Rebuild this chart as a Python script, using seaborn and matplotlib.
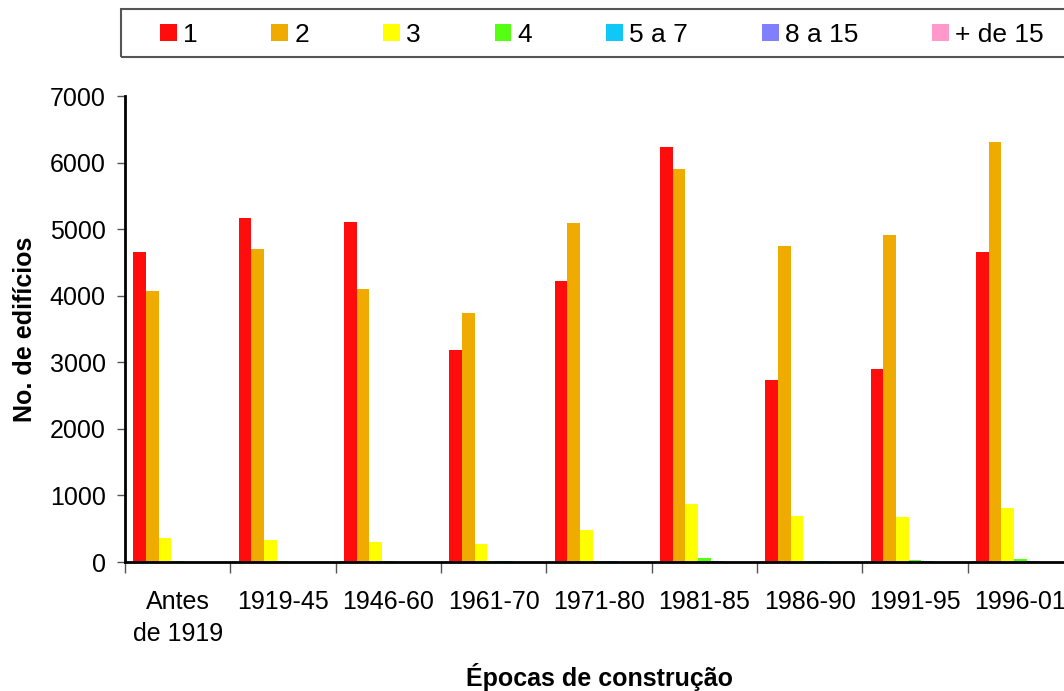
import numpy as np
import pandas as pd
import seaborn as sns
import matplotlib as mpl
from matplotlib import pyplot as plt

# data
epocas = ['Antes\nde 1919', '1919-45', '1946-60', '1961-70', '1971-80',
          '1981-85', '1986-90', '1991-95', '1996-01']
pisos = ['1', '2', '3', '4', '5 a 7', '8 a 15', '+ de 15']

p1 = [4655, 5165, 5105, 3180, 4215, 6240, 2730, 2895, 4650]
p2 = [4075, 4700, 4095, 3735, 5085, 5910, 4740, 4905, 6315]
p3 = [365, 335, 305, 265, 485, 875, 695, 680, 815]
p4 = [10, 10, 10, 22, 22, 65, 22, 35, 50]
p5_7 = [2, 2, 3, 8, 8, 8, 8, 8, 8]
p8_15 = [1, 1, 1, 2, 4, 2, 2, 4, 4]
p15 = [0, 0, 0, 1, 1, 1, 1, 1, 1]

cores = ['#ff0d0d', '#efab00', '#ffff00', '#55ff11', '#10c8f8', '#8080ff', '#ff99cc']

series = [p1, p2, p3, p4, p5_7, p8_15, p15]
rows = []
for nome, vals in zip(pisos, series):
    for ep, v in zip(epocas, vals):
        rows.append({'Época': ep, 'Pisos': nome, 'Edifícios': v})
df = pd.DataFrame(rows)

sns.set_style('white')
plt.rcParams['font.family'] = ['Liberation Sans', 'DejaVu Sans']
plt.rcParams['text.color'] = 'black'
plt.rcParams['axes.labelcolor'] = 'black'

W, H = 1064, 691
fig = plt.figure(figsize=(W / 100, H / 100), dpi=100)
ax = fig.add_axes([125 / W, 1 - 562 / H, (1073 - 125) / W, (562 - 96) / H])

sns.barplot(data=df, x='Época', y='Edifícios', hue='Pisos', order=epocas,
            hue_order=pisos, palette=cores, saturation=1, width=0.84,
            linewidth=0, ax=ax, legend=True)

ax.set_xlim(-0.5, len(epocas) - 0.5)
ax.set_ylim(0, 7000)
ax.set_yticks(np.arange(0, 7001, 1000))
ax.tick_params(axis='y', labelsize=18, length=6, width=1, color='#555555',
               labelcolor='black', direction='out', left=True, pad=8)

# category ticks sit between groups, labels in the middle
ax.set_xticks(np.arange(len(epocas)))
ax.set_xticklabels(epocas, linespacing=1.45)
ax.tick_params(axis='x', which='major', labelsize=18, length=0, pad=20,
               labelcolor='black')
ax.set_xticks(np.arange(-0.5, len(epocas), 1), minor=True)
ax.tick_params(axis='x', which='minor', length=8, width=1, color='#555555',
               direction='out', bottom=True)

for s in ['top', 'right']:
    ax.spines[s].set_visible(False)
for s in ['left', 'bottom']:
    ax.spines[s].set_color('black')
    ax.spines[s].set_linewidth(2)

ax.set_xlabel('Épocas de construção', fontsize=18, fontweight='bold', labelpad=12)
ax.set_ylabel('No. de edifícios', fontsize=18, fontweight='bold', labelpad=9)

handles, labels = ax.get_legend_handles_labels()
ax.get_legend().remove()
leg = fig.legend(handles, labels, loc='center left', ncol=7,
                 bbox_to_anchor=(160 / W, 1 - 34.5 / H), borderaxespad=0,
                 borderpad=0, fontsize=19, handlelength=0.64, handleheight=0.64,
                 handletextpad=0.23, columnspacing=2.8, frameon=False)

# legend box runs off the right edge in the reference
fig.add_artist(mpl.patches.Rectangle((121 / W, 1 - 57 / H), (1080 - 121) / W, 48 / H,
                                     transform=fig.transFigure, fill=False,
                                     edgecolor='#555555', linewidth=1.5))

plt.savefig('out.png', dpi=100)
